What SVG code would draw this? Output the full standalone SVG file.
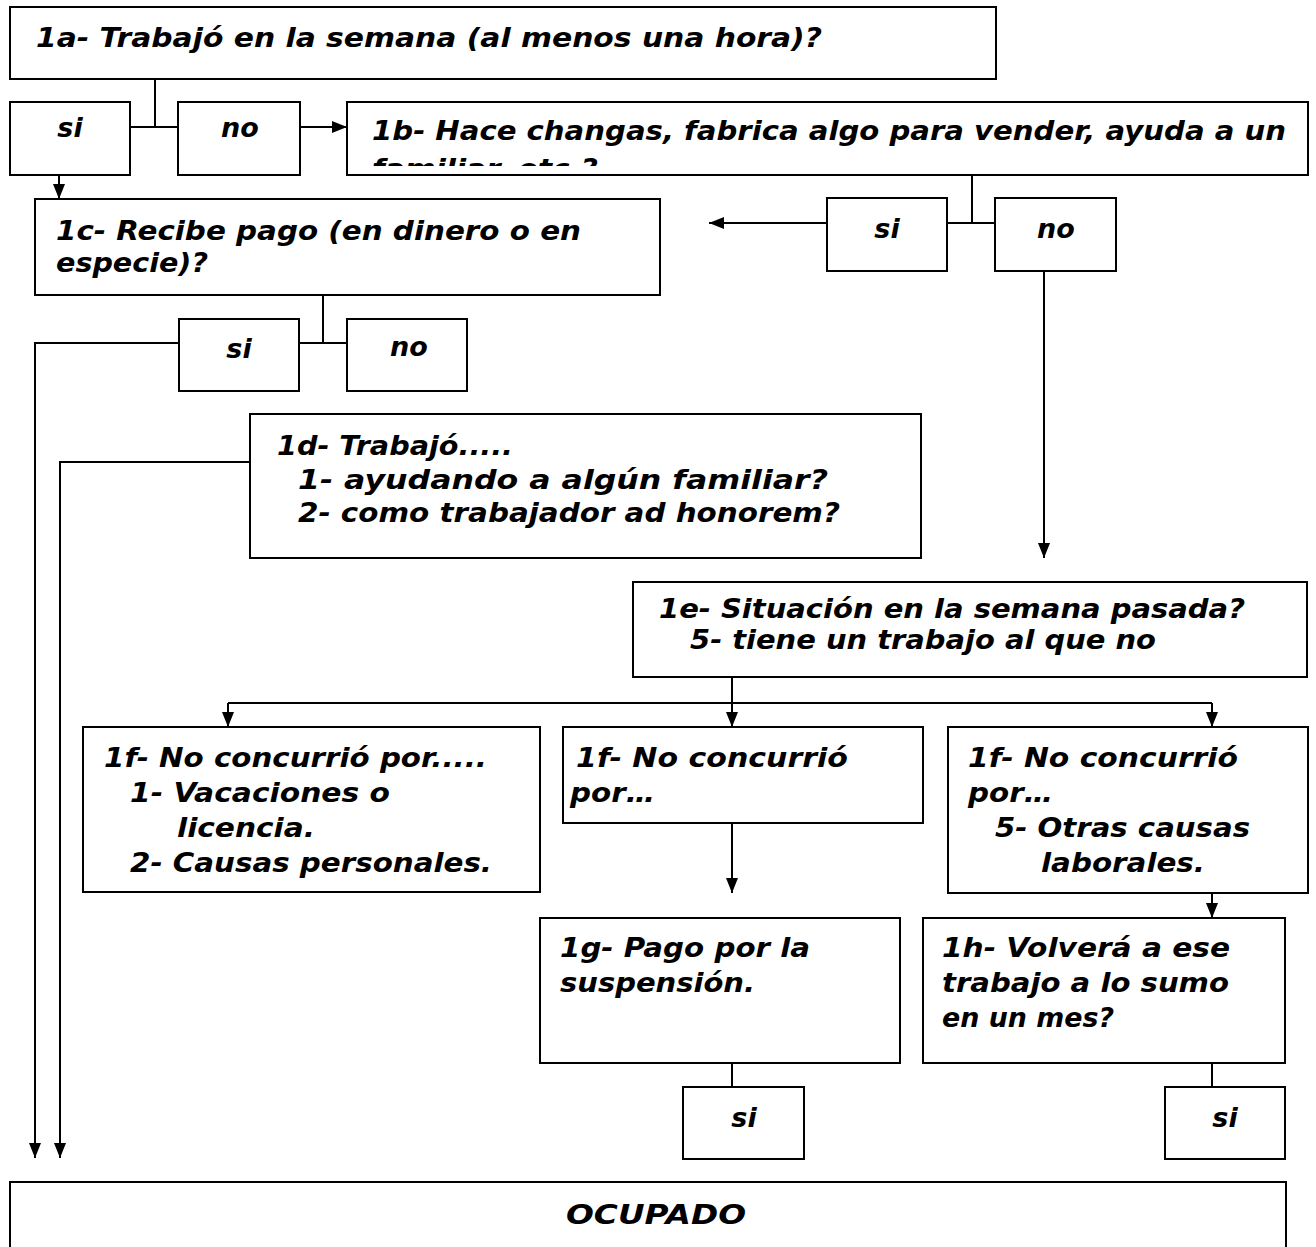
<svg xmlns="http://www.w3.org/2000/svg" width="1316" height="1247" viewBox="0 0 1316 1247">
<style>
.box{fill:#fff;stroke:#000;stroke-width:2}
.ln{fill:none;stroke:#000;stroke-width:2}
.t{font-family:"DejaVu Sans","Liberation Sans",sans-serif;font-weight:bold;font-style:italic;font-size:27px;fill:#000}
.c{text-anchor:middle}
</style>
<defs>
<marker id="ah" viewBox="0 0 15 12" refX="15" refY="6" markerWidth="15" markerHeight="12" markerUnits="userSpaceOnUse" orient="auto"><path d="M0,0 L15,6 L0,12 z" fill="#000"/></marker>
<clipPath id="clip1b"><rect x="347" y="102" width="961" height="64"/></clipPath>
</defs>
<rect width="1316" height="1247" fill="#fff"/>

<g id="connectors">
<path class="ln" d="M155,79 V127 M130,127 H178"/>
<path class="ln" d="M300,127 H347" marker-end="url(#ah)"/>
<path class="ln" d="M59,175 V199" marker-end="url(#ah)"/>
<path class="ln" d="M972,175 V223 M947,223 H995"/>
<path class="ln" d="M827,223 H709" marker-end="url(#ah)"/>
<path class="ln" d="M1044,271 V558" marker-end="url(#ah)"/>
<path class="ln" d="M323,295 V343 M299,343 H347"/>
<path class="ln" d="M179,343 H35 V1158" marker-end="url(#ah)"/>
<path class="ln" d="M418,364 V389" marker-end="url(#ah)"/>
<path class="ln" d="M250,462 H60 V1158" marker-end="url(#ah)"/>
<path class="ln" d="M732,677 V727" marker-end="url(#ah)"/>
<path class="ln" d="M228,703 H1212"/>
<path class="ln" d="M228,703 V727" marker-end="url(#ah)"/>
<path class="ln" d="M1212,703 V727" marker-end="url(#ah)"/>
<path class="ln" d="M732,823 V893" marker-end="url(#ah)"/>
<path class="ln" d="M1212,893 V918" marker-end="url(#ah)"/>
<path class="ln" d="M732,1063 V1087"/>
<path class="ln" d="M1212,1063 V1087"/>
</g>

<g id="n1a">
<rect class="box" x="10" y="7" width="986" height="72"/>
<text class="t" x="36" y="47" textLength="786" lengthAdjust="spacingAndGlyphs">1a- Trabajó en la semana (al menos una hora)?</text>
</g>
<g id="n1a-si">
<rect class="box" x="10" y="102" width="120" height="73"/>
<text class="t c" x="70" y="137">si</text>
</g>
<g id="n1a-no">
<rect class="box" x="178" y="102" width="122" height="73"/>
<text class="t c" x="240" y="137">no</text>
</g>
<g id="n1b">
<rect class="box" x="347" y="102" width="961" height="73"/>
<g clip-path="url(#clip1b)">
<text class="t" x="372" y="140" textLength="914" lengthAdjust="spacingAndGlyphs">1b- Hace changas, fabrica algo para vender, ayuda a un</text>
<text class="t" x="372" y="178" textLength="226" lengthAdjust="spacingAndGlyphs">familiar, etc.?</text>
</g>
</g>
<g id="n1b-si">
<rect class="box" x="827" y="198" width="120" height="73"/>
<text class="t c" x="887" y="238">si</text>
</g>
<g id="n1b-no">
<rect class="box" x="995" y="198" width="121" height="73"/>
<text class="t c" x="1056" y="238">no</text>
</g>
<g id="n1c">
<rect class="box" x="35" y="199" width="625" height="96"/>
<text class="t" x="56" y="240" textLength="525" lengthAdjust="spacingAndGlyphs">1c- Recibe pago (en dinero o en</text>
<text class="t" x="56" y="272" textLength="152" lengthAdjust="spacingAndGlyphs">especie)?</text>
</g>
<g id="n1c-si">
<rect class="box" x="179" y="319" width="120" height="72"/>
<text class="t c" x="239" y="358">si</text>
</g>
<g id="n1c-no">
<rect class="box" x="347" y="319" width="120" height="72"/>
<text class="t c" x="409" y="356">no</text>
</g>
<g id="n1d">
<rect class="box" x="250" y="414" width="671" height="144"/>
<text class="t" x="277" y="455" textLength="236" lengthAdjust="spacingAndGlyphs">1d- Trabajó.....</text>
<text class="t" x="298" y="489" textLength="530" lengthAdjust="spacingAndGlyphs">1- ayudando a algún familiar?</text>
<text class="t" x="298" y="522" textLength="542" lengthAdjust="spacingAndGlyphs">2- como trabajador ad honorem?</text>
</g>
<g id="n1e">
<rect class="box" x="633" y="582" width="674" height="95"/>
<text class="t" x="659" y="618" textLength="586" lengthAdjust="spacingAndGlyphs">1e- Situación en la semana pasada?</text>
<text class="t" x="690" y="649" textLength="466" lengthAdjust="spacingAndGlyphs">5- tiene un trabajo al que no</text>
</g>
<g id="n1f-1">
<rect class="box" x="83" y="727" width="457" height="165"/>
<text class="t" x="104" y="767" textLength="383" lengthAdjust="spacingAndGlyphs">1f- No concurrió por.....</text>
<text class="t" x="130" y="802" textLength="260" lengthAdjust="spacingAndGlyphs">1- Vacaciones o</text>
<text class="t" x="177" y="837" textLength="138" lengthAdjust="spacingAndGlyphs">licencia.</text>
<text class="t" x="130" y="872" textLength="362" lengthAdjust="spacingAndGlyphs">2- Causas personales.</text>
</g>
<g id="n1f-2">
<rect class="box" x="563" y="727" width="360" height="96"/>
<text class="t" x="576" y="767" textLength="272" lengthAdjust="spacingAndGlyphs">1f- No concurrió</text>
<text class="t" x="570" y="802" textLength="85" lengthAdjust="spacingAndGlyphs">por…</text>
</g>
<g id="n1f-3">
<rect class="box" x="948" y="727" width="360" height="166"/>
<text class="t" x="968" y="767" textLength="270" lengthAdjust="spacingAndGlyphs">1f- No concurrió</text>
<text class="t" x="968" y="802" textLength="85" lengthAdjust="spacingAndGlyphs">por…</text>
<text class="t" x="995" y="837" textLength="255" lengthAdjust="spacingAndGlyphs">5- Otras causas</text>
<text class="t" x="1041" y="872" textLength="164" lengthAdjust="spacingAndGlyphs">laborales.</text>
</g>
<g id="n1g">
<rect class="box" x="540" y="918" width="360" height="145"/>
<text class="t" x="560" y="957" textLength="250" lengthAdjust="spacingAndGlyphs">1g- Pago por la</text>
<text class="t" x="560" y="992" textLength="195" lengthAdjust="spacingAndGlyphs">suspensión.</text>
</g>
<g id="n1h">
<rect class="box" x="923" y="918" width="362" height="145"/>
<text class="t" x="942" y="957" textLength="288" lengthAdjust="spacingAndGlyphs">1h- Volverá a ese</text>
<text class="t" x="942" y="992" textLength="287" lengthAdjust="spacingAndGlyphs">trabajo a lo sumo</text>
<text class="t" x="942" y="1027" textLength="172" lengthAdjust="spacingAndGlyphs">en un mes?</text>
</g>
<g id="n1g-si">
<rect class="box" x="683" y="1087" width="121" height="72"/>
<text class="t c" x="744" y="1127">si</text>
</g>
<g id="n1h-si">
<rect class="box" x="1165" y="1087" width="120" height="72"/>
<text class="t c" x="1225" y="1127">si</text>
</g>
<g id="ocupado">
<rect class="box" x="10" y="1182" width="1276" height="90"/>
<text class="t c" x="656" y="1224" font-size="29" textLength="180" lengthAdjust="spacingAndGlyphs">OCUPADO</text>
</g>
</svg>
